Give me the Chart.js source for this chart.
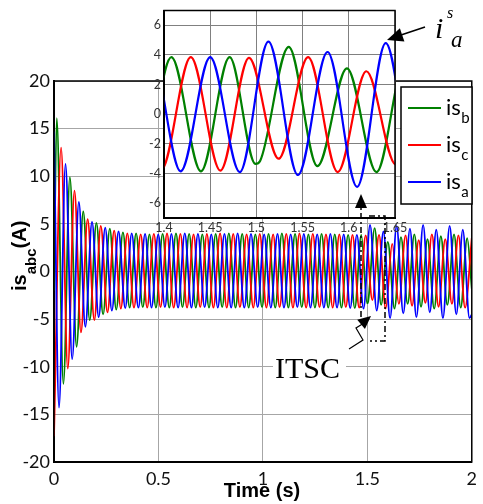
<!DOCTYPE html>
<html><head>
<meta charset="UTF-8">
<title>Stator currents</title>
<script src="https://cdn.jsdelivr.net/npm/chart.js"></script>
<style>
    body { margin: 0; background: #fff; overflow: hidden; }
    .wrap { position: relative; width: 483px; height: 504px; }
    .layer { position: absolute; left: 0; top: 0; width: 483px; height: 504px; }
</style>
</head>
<body>
<div class="wrap">
    <div class="layer"><canvas id="mainChart"></canvas></div>
    <div class="layer"><canvas id="zoomChart"></canvas></div>
</div>
<script>
// peaks and troughs of each phase current: time (s) / current (A)
const isbTime = [0, 0.013, 0.045, 0.076, 0.108, 0.140, 0.171, 0.203, 0.235, 0.267,
    0.298, 0.330, 0.362, 0.393, 0.425, 0.457, 0.488, 0.520, 0.552, 0.584,
    0.615, 0.647, 0.679, 0.710, 0.742, 0.774, 0.805, 0.837, 0.869, 0.901,
    0.932, 0.964, 0.996, 1.027, 1.059, 1.091, 1.122, 1.154, 1.186, 1.218,
    1.249, 1.281, 1.313, 1.344, 1.376, 1.408, 1.440, 1.471, 1.499, 1.504,
    1.535, 1.566, 1.598, 1.630, 1.661, 1.693, 1.725, 1.757, 1.788, 1.820,
    1.852, 1.883, 1.915, 1.947, 1.978, 2.0];
const isbVal = [-2, 16.1, -11.8, 9.9, -7.9, 6.3, -5.1, 5.1, -4.5, 4.5,
    -4.0, 4.1, -3.8, 4.0, -3.75, 3.9, -3.8, 3.95, -3.8, 4.0,
    -3.75, 3.95, -3.8, 3.9, -3.8, 3.95, -3.75, 4.0, -3.8, 3.95,
    -3.8, 3.9, -3.75, 3.95, -3.8, 4.0, -3.8, 3.95, -3.75, 3.9,
    -3.8, 3.95, -3.8, 3.9, -3.8, 3.85, -3.85, 3.85, -3.35, -3.15,
    4.55, -3.5, 3.1, -3.9, 3.6, -3.4, 3.9, -3.7, 3.4, -3.9,
    3.7, -3.5, 3.9, -3.8, 3.5, -1.8];

const iscTime = [0, 0.034, 0.066, 0.098, 0.129, 0.161, 0.193, 0.224, 0.256, 0.288,
    0.320, 0.351, 0.383, 0.415, 0.446, 0.478, 0.510, 0.541, 0.573, 0.605,
    0.637, 0.668, 0.700, 0.732, 0.763, 0.795, 0.827, 0.858, 0.890, 0.922,
    0.954, 0.985, 1.017, 1.049, 1.080, 1.112, 1.144, 1.175, 1.207, 1.239,
    1.271, 1.302, 1.334, 1.366, 1.397, 1.429, 1.461, 1.492, 1.524, 1.556,
    1.588, 1.619, 1.651, 1.683, 1.714, 1.746, 1.778, 1.809, 1.841, 1.873,
    1.905, 1.936, 1.968, 2.0];
const iscVal = [-17.3, 13.0, -10.2, 8.5, -6.4, 5.5, -5.1, 4.8, -4.3, 4.3,
    -3.9, 4.0, -3.8, 3.9, -3.8, 3.95, -3.75, 4.0, -3.8, 3.95,
    -3.8, 3.9, -3.75, 3.95, -3.8, 4.0, -3.8, 3.95, -3.75, 3.9,
    -3.8, 3.95, -3.8, 3.9, -3.75, 3.95, -3.8, 4.0, -3.8, 3.95,
    -3.75, 3.9, -3.8, 3.9, -3.75, 3.85, -3.8, 3.8, -3.0, 3.85,
    -3.9, 2.9, -3.4, 3.8, -3.6, 3.3, -3.3, 3.9, -3.7, 3.4,
    -3.4, 3.8, -3.8, 3.5];

const isaTime = [0, 0.024, 0.055, 0.087, 0.119, 0.150, 0.182, 0.214, 0.245, 0.277,
    0.309, 0.341, 0.372, 0.404, 0.436, 0.467, 0.499, 0.531, 0.562, 0.594,
    0.626, 0.658, 0.689, 0.721, 0.753, 0.784, 0.816, 0.848, 0.879, 0.911,
    0.943, 0.975, 1.006, 1.038, 1.070, 1.101, 1.133, 1.165, 1.196, 1.228,
    1.260, 1.292, 1.323, 1.355, 1.387, 1.418, 1.450, 1.482, 1.513, 1.545,
    1.577, 1.609, 1.640, 1.672, 1.704, 1.735, 1.767, 1.799, 1.830, 1.862,
    1.894, 1.926, 1.957, 1.989, 2.0];
const isaVal = [14.7, -14.3, 11.3, -9.2, 7.3, -5.8, 5.2, -4.8, 4.6, -4.1,
    4.2, -3.85, 4.0, -3.8, 3.95, -3.8, 3.9, -3.75, 3.95, -3.8,
    4.0, -3.8, 3.95, -3.75, 3.9, -3.8, 3.95, -3.8, 4.0, -3.8,
    3.95, -3.75, 3.9, -3.8, 3.95, -3.8, 3.9, -3.75, 3.95, -3.8,
    3.9, -3.8, 3.95, -3.8, 3.9, -3.85, 3.85, -3.9, 4.9, -4.1,
    4.2, -4.9, 4.8, -4.4, 4.5, -4.8, 4.9, -4.3, 4.4, -4.9,
    4.8, -4.5, 4.4, -4.9, -4.5];

const mainXTicks = [0, 0.5, 1, 1.5, 2];
const mainYTicks = [-20, -15, -10, -5, 0, 5, 10, 15, 20];
const zoomXTicks = [1.4, 1.45, 1.5, 1.55, 1.6, 1.65];
const zoomYTicks = [-6, -4, -2, 0, 2, 4, 6];

// legend order b, c, a; blue drawn on top
const phases = [
    { label: 'is_b', color: '#008000', t: isbTime, v: isbVal, order: 2 },
    { label: 'is_c', color: '#ff0000', t: iscTime, v: iscVal, order: 1 },
    { label: 'is_a', color: '#0000ff', t: isaTime, v: isaVal, order: 0 }
];

function makeDatasets(width) {
    return phases.map(p => ({
        label: p.label,
        data: p.t.map((t, i) => ({ x: t, y: p.v[i] })),
        borderColor: p.color,
        borderWidth: width,
        pointRadius: 0,
        fill: false,
        cubicInterpolationMode: 'monotone',
        order: p.order
    }));
}

const fixTicks = list => scale => { scale.ticks = list.map(v => ({ value: v })); };

const frame = {
    id: 'frame',
    afterDraw(chart, args, opts) {
        const a = chart.chartArea, ctx = chart.ctx;
        ctx.save();
        ctx.strokeStyle = '#000';
        ctx.lineWidth = opts.width || 1.5;
        ctx.strokeRect(a.left, a.top, a.right - a.left, a.bottom - a.top);
        ctx.restore();
    }
};

const whiteArea = {
    id: 'whiteArea',
    beforeDraw(chart) {
        const a = chart.chartArea, ctx = chart.ctx;
        ctx.save();
        ctx.fillStyle = '#fff';
        ctx.fillRect(a.left, a.top, a.right - a.left, a.bottom - a.top);
        ctx.restore();
    }
};

// text with a lowered subscript, e.g. "is_b"
function subText(ctx, label, x, y, size, subSize, drop, weight) {
    const [base, sub] = label.split('_');
    ctx.font = weight + ' ' + size + 'px Lato';
    ctx.fillText(base, x, y);
    const w = ctx.measureText(base).width;
    ctx.font = weight + ' ' + subSize + 'px Lato';
    ctx.fillText(sub, x + w + 0.5, y + drop);
}

const legendBox = {
    id: 'legendBox',
    afterDraw(chart) {
        const ctx = chart.ctx;
        ctx.save();
        ctx.fillStyle = '#fff';
        ctx.fillRect(401, 87, 71, 117);
        ctx.strokeStyle = '#000';
        ctx.lineWidth = 1.5;
        ctx.strokeRect(401, 87, 71, 117);
        chart.data.datasets.forEach((ds, i) => {
            const y = 108 + i * 37;
            ctx.strokeStyle = ds.borderColor;
            ctx.lineWidth = 2;
            ctx.beginPath();
            ctx.moveTo(408, y);
            ctx.lineTo(441, y);
            ctx.stroke();
            ctx.fillStyle = '#000';
            ctx.textBaseline = 'alphabetic';
            subText(ctx, ds.label, 446, y + 7, 22, 15, 8, 'normal');
        });
        ctx.restore();
    }
};

const axisTitles = {
    id: 'axisTitles',
    afterDraw(chart) {
        const ctx = chart.ctx;
        ctx.save();
        ctx.fillStyle = '#000';
        ctx.textBaseline = 'alphabetic';
        ctx.font = 'bold 20px "Liberation Sans"';
        ctx.textAlign = 'center';
        ctx.fillText('Time (s)', 262, 497);
        ctx.textAlign = 'left';
        ctx.translate(26, 291);
        ctx.rotate(-Math.PI / 2);
        ctx.fillText('is', 0, 0);
        let w = ctx.measureText('is').width;
        ctx.font = 'bold 15px "Liberation Sans"';
        ctx.fillText('abc', w, 10);
        w += ctx.measureText('abc').width;
        ctx.font = 'bold 20px "Liberation Sans"';
        ctx.fillText('(A)', w, 0);
        ctx.restore();
    }
};

function arrowHead(ctx, fx, fy, tx, ty, len, half) {
    const d = Math.hypot(tx - fx, ty - fy);
    const ux = (tx - fx) / d, uy = (ty - fy) / d;
    const bx = tx - ux * len, by = ty - uy * len;
    ctx.beginPath();
    ctx.moveTo(tx, ty);
    ctx.lineTo(bx - uy * half, by + ux * half);
    ctx.lineTo(bx + uy * half, by - ux * half);
    ctx.closePath();
    ctx.fill();
}

const notes = {
    id: 'notes',
    afterDraw(chart) {
        const ctx = chart.ctx;
        ctx.save();
        ctx.strokeStyle = '#000';
        ctx.fillStyle = '#000';
        ctx.textBaseline = 'alphabetic';

        // pointer to the phase-a peak
        ctx.lineWidth = 1.5;
        ctx.beginPath();
        ctx.moveTo(425, 27);
        ctx.lineTo(398, 36);
        ctx.stroke();
        arrowHead(ctx, 425, 27, 387, 40, 16, 7);
        ctx.font = 'italic 30px "Liberation Serif"';
        ctx.fillText('i', 435, 38);
        ctx.font = 'italic 16px "Liberation Serif"';
        ctx.fillText('s', 447, 18);
        ctx.font = 'italic 23px "Liberation Serif"';
        ctx.fillText('a', 451, 47);

        // fault window and link to the zoom
        ctx.lineWidth = 1.5;
        ctx.setLineDash([6, 3, 2, 3]);
        ctx.beginPath();
        ctx.moveTo(361, 317);
        ctx.lineTo(361, 207);
        ctx.moveTo(369, 216);
        ctx.lineTo(385, 216);
        ctx.lineTo(385, 341);
        ctx.lineTo(370, 341);
        ctx.stroke();
        ctx.setLineDash([]);
        arrowHead(ctx, 361, 215, 361, 194, 14, 6);

        // fault label
        ctx.fillStyle = '#fff';
        ctx.fillRect(273, 354, 73, 26);
        ctx.fillStyle = '#000';
        ctx.font = '30px "Liberation Serif"';
        ctx.fillText('ITSC', 275, 378);
        ctx.lineWidth = 1.2;
        ctx.beginPath();
        ctx.moveTo(349, 349);
        ctx.lineTo(363, 340);
        ctx.lineTo(356, 328);
        ctx.lineTo(364, 323);
        ctx.stroke();
        arrowHead(ctx, 358, 327, 371, 316, 13, 6);
        ctx.restore();
    }
};

// full-time view
new Chart(document.getElementById('mainChart'), {
    type: 'line',
    data: { datasets: makeDatasets(1.8) },
    options: {
        responsive: true,
        maintainAspectRatio: false,
        animation: false,
        events: [],
        layout: { padding: { left: 0, right: 5, top: 81, bottom: 0 } },
        plugins: { legend: { display: false }, tooltip: { enabled: false }, frame: { width: 1.5 } },
        scales: {
            x: {
                type: 'linear', min: 0, max: 2,
                afterBuildTicks: fixTicks(mainXTicks),
                afterFit: s => { s.height = 42; },
                grid: { color: '#a6a6a6', lineWidth: 1, drawTicks: false },
                border: { color: '#000', width: 2 },
                ticks: { padding: 6, color: '#111', autoSkip: false, maxRotation: 0,
                    font: { family: 'Lato', size: 18 }, callback: v => v }
            },
            y: {
                type: 'linear', min: -20, max: 20,
                afterBuildTicks: fixTicks(mainYTicks),
                afterFit: s => { s.width = 54; },
                grid: { color: '#a6a6a6', lineWidth: 1, drawTicks: false },
                border: { color: '#000', width: 2 },
                ticks: { padding: 4, color: '#111', autoSkip: false,
                    font: { family: 'Lato', size: 18 }, callback: v => v }
            }
        }
    },
    plugins: [frame, legendBox, axisTitles]
});

// zoom on the fault instant
new Chart(document.getElementById('zoomChart'), {
    type: 'line',
    data: { datasets: makeDatasets(2.2) },
    options: {
        responsive: true,
        maintainAspectRatio: false,
        animation: false,
        events: [],
        layout: { padding: { left: 130, right: 88, top: 10, bottom: 264 } },
        plugins: { legend: { display: false }, tooltip: { enabled: false }, frame: { width: 1.5 } },
        scales: {
            x: {
                type: 'linear', min: 1.4, max: 1.65,
                afterBuildTicks: fixTicks(zoomXTicks),
                afterFit: s => { s.height = 22; },
                grid: { color: '#808080', lineWidth: 1, drawTicks: false },
                border: { color: '#000', width: 2 },
                ticks: { padding: 2, color: '#333', autoSkip: false, maxRotation: 0,
                    font: { family: 'Lato', size: 12.5 }, callback: v => v }
            },
            y: {
                type: 'linear', min: -7, max: 7,
                afterBuildTicks: fixTicks(zoomYTicks),
                afterFit: s => { s.width = 34; },
                grid: { color: '#808080', lineWidth: 1, drawTicks: false },
                border: { color: '#000', width: 2 },
                ticks: { padding: 3, color: '#333', autoSkip: false,
                    font: { family: 'Lato', size: 12.5 }, callback: v => v }
            }
        }
    },
    plugins: [whiteArea, frame, notes]
});
</script>
</body></html>
